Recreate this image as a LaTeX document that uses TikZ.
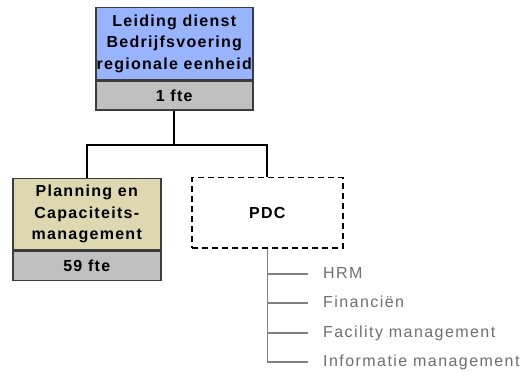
\documentclass[tikz,border=0pt]{standalone}
\usepackage{fontspec}
\setmainfont{Liberation Sans}
\newfontfamily\boxfont{Liberation Sans}[LetterSpace=8]
\newfontfamily\grayfont{Liberation Sans}[LetterSpace=9]
\definecolor{blueb}{RGB}{153,180,255}
\definecolor{tanb}{RGB}{221,216,176}
\definecolor{greyb}{RGB}{192,192,192}
\definecolor{edgeb}{RGB}{60,60,60}
\definecolor{greyt}{RGB}{110,110,110}
\definecolor{greyl}{RGB}{128,128,128}
\begin{document}
\begin{tikzpicture}[x=1pt,y=-1pt,
  boxbase/.style={draw=edgeb, line width=1.5pt, anchor=north west, align=center,
    inner sep=0pt, font=\boxfont\bfseries\fontsize{16}{21.5}\selectfont},
  topbox/.style={boxbase, fill=blueb},
  tanbox/.style={boxbase, fill=tanb},
  ftebox/.style={boxbase, fill=greyb, anchor=north},
  dashbox/.style={boxbase, draw=black, dashed, dash pattern=on 6pt off 4pt, fill=none},
  tree/.style={draw=black, line width=2pt},
  gtree/.style={draw=greyl, line width=1.5pt},
  item/.style={anchor=west, inner sep=0pt, text=greyt, text height=11pt, text depth=3pt,
    font=\grayfont\fontsize{16}{18}\selectfont}
]
\useasboundingbox (0,0) rectangle (522,374);
\node[topbox, minimum width=157pt, minimum height=72pt] (lead) at (95,7)
  {Leiding dienst\\Bedrijfsvoering\\regionale eenheid};
\node[ftebox, minimum width=157pt, minimum height=29pt] (leadfte) at (lead.south) {1 fte};
\node[tanbox, minimum width=148pt, minimum height=71pt] (plan) at (12,178)
  {Planning en\\Capaciteits-\\management};
\node[ftebox, minimum width=148pt, minimum height=29pt] (planfte) at (plan.south) {59 fte};
\node[dashbox, minimum width=151pt, minimum height=70pt] (pdc) at (191,177) {PDC};
\coordinate (bar) at (0,145);
\draw[tree] (leadfte.south) -- (leadfte.south |- bar);
\draw[tree] (plan.north) |- (leadfte.south |- bar) -| (pdc.north);
\node[item] (hrm) at (323,274) {HRM};
\node[item] (fin) at (323,303) {Financiën};
\node[item] (fac) at (323,333) {Facility management};
\node[item] (inf) at (323,362) {Informatie management};
\draw[gtree] (pdc.south) |- ([xshift=-15pt]inf.west);
\foreach \n in {hrm,fin,fac}
  \draw[gtree] (pdc.south |- \n.west) -- ([xshift=-15pt]\n.west);
\end{tikzpicture}
\end{document}
